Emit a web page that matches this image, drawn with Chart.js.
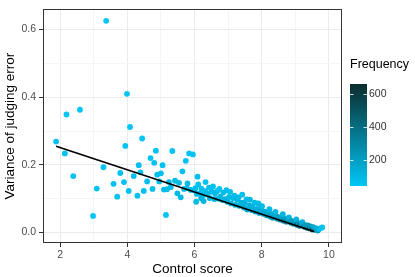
<!DOCTYPE html>
<html><head><meta charset="utf-8">
<script src="https://cdn.jsdelivr.net/npm/chart.js@4/dist/chart.umd.min.js"></script>
<style>html,body{margin:0;padding:0;background:#fff;}canvas{display:block}</style>
</head><body>
<canvas id="c" width="415" height="277"></canvas>
<script>
// ---- data ----
const ctrlScore = [
 1.88,2.14,2.19,2.39,2.59,2.98,3.09,3.29,3.37,3.59,3.70,3.79,3.90,3.94,3.99,4.04,4.08,4.19,4.30,4.34,
 4.39,4.44,4.49,4.59,4.69,4.75,4.80,4.85,4.89,4.95,5.00,5.05,5.09,5.15,5.18,5.24,5.29,5.34,5.42,5.49,
 5.54,5.59,5.64,5.69,5.74,5.77,5.79,5.84,5.89,5.95,5.99,6.05,6.09,6.20,6.27,
 6.03,6.07,6.11,6.17,6.21,6.26,6.31,6.33,6.39,6.43,6.45,6.51,6.55,6.59,6.61,6.67,6.71,6.74,6.77,6.83,
 6.86,6.91,6.95,6.98,7.03,7.06,7.09,7.15,7.19,7.21,7.27,7.31,7.33,7.39,7.42,7.47,7.49,7.55,7.57,7.63,
 7.65,7.71,7.73,7.79,7.81,7.87,7.90,7.93,7.99,8.01,8.07,8.09,8.15,8.17,8.23,8.25,8.31,8.33,8.39,8.41,
 8.47,8.49,8.55,8.57,8.63,8.65,8.71,8.73,8.79,8.81,8.87,8.89,8.95,8.97,9.03,9.05,9.11,9.13,9.19,9.21,
 9.27,9.29,9.35,9.37,9.43,9.45,9.51,9.53,9.59,9.61,9.67,9.70,9.76,9.80
];
const judgeVar = [
 0.269,0.234,0.349,0.167,0.363,0.049,0.130,0.193,0.626,0.144,0.106,0.176,0.149,0.256,0.410,0.123,0.312,0.167,0.109,0.199,
 0.178,0.278,0.123,0.151,0.220,0.129,0.206,0.242,0.171,0.151,0.175,0.199,0.127,0.052,0.128,0.149,0.134,0.241,0.153,0.116,
 0.147,0.104,0.181,0.129,0.212,0.131,0.145,0.234,0.126,0.231,0.125,0.091,0.165,0.101,0.093,
 0.131,0.114,0.142,0.116,0.129,0.110,0.122,0.149,0.115,0.133,0.102,0.121,0.136,0.099,0.115,0.122,0.100,0.129,0.106,0.096,
 0.118,0.099,0.125,0.091,0.105,0.120,0.086,0.102,0.109,0.082,0.097,0.104,0.079,0.088,0.112,0.074,0.089,0.098,0.068,0.080,
 0.097,0.066,0.075,0.088,0.062,0.070,0.086,0.058,0.066,0.078,0.055,0.062,0.051,0.058,0.069,0.047,0.054,0.044,0.050,0.061,
 0.041,0.046,0.038,0.044,0.054,0.035,0.040,0.032,0.037,0.045,0.029,0.034,0.026,0.030,0.039,0.023,0.027,0.020,0.024,0.031,
 0.017,0.022,0.014,0.021,0.012,0.018,0.009,0.016,0.008,0.013,0.006,0.010,0.013,0.015
];
const frequency = [
 60,55,45,50,45,41,50,55,41,60,55,60,60,50,45,65,50,65,60,60,
 65,50,70,70,55,75,60,55,70,75,70,60,80,50,80,80,85,55,80,90,
 85,90,70,95,60,95,90,55,100,55,100,80,70,120,110,
 70,80,60,85,65,90,75,55,95,70,100,85,60,105,95,70,110,60,100,115,
 80,110,70,120,95,70,125,105,80,130,110,80,140,115,65,150,120,85,160,125,
 90,170,130,80,180,135,95,190,140,90,200,150,210,155,95,220,160,240,170,100,
 250,175,270,180,105,290,190,310,195,110,330,200,350,210,115,370,215,390,220,120,
 420,230,450,220,500,210,663,180,300,130,200,90,70,55
];
// fitted regression line (end points)
const fitX = [1.88, 9.56];
const fitY = [0.255, 0.003];
// axis ticks (major + minor grid)
const xTicks = [2,3,4,5,6,7,8,9,10];
const xLabels = ['2','','4','','6','','8','','10'];
const yTicks = [0,0.1,0.2,0.3,0.4,0.5,0.6];
const yLabels = ['0.0','','0.2','','0.4','','0.6'];
const legendTicks = [200,400,600];
const legendLabels = ['200','400','600'];

// ---- colour scale ----
const lowC = [0,198,246], highC = [11,44,45];
const fMin = Math.min(...frequency), fMax = Math.max(...frequency);
function freqColor(f){
  const t = (f - fMin) / (fMax - fMin);
  const c = lowC.map((v,i)=>Math.round(v + (highC[i]-v)*t));
  return `rgb(${c[0]},${c[1]},${c[2]})`;
}

const FONT = '"Liberation Sans", Arial, Helvetica, sans-serif';
const pts = ctrlScore.map((x,i)=>({x, y: judgeVar[i]}));
const colors = frequency.map(freqColor);
const fit = fitX.map((x,i)=>({x, y: fitY[i]}));

const panelBorder = {
  id:'panelBorder',
  afterDatasetsDraw(chart){
    const {ctx, chartArea:a} = chart;
    ctx.save();
    ctx.strokeStyle = '#333333';
    ctx.lineWidth = 1;
    ctx.strokeRect(Math.round(a.left)+0.5, Math.round(a.top)+0.5, Math.round(a.right-a.left)-1, Math.round(a.bottom-a.top)-1);
    ctx.restore();
  }
};

const colorbar = {
  id:'colorbar',
  afterDraw(chart){
    const ctx = chart.ctx;
    const bx = 350, bw = 17, top = 84, bottom = 186;
    ctx.save();
    ctx.fillStyle = '#000';
    ctx.font = '12.5px ' + FONT;
    ctx.textAlign = 'left';
    ctx.textBaseline = 'alphabetic';
    ctx.fillText('Frequency', 350, 68);
    const g = ctx.createLinearGradient(0, bottom, 0, top);
    for (let k=0;k<=10;k++){
      g.addColorStop(k/10, freqColor(fMin + (fMax-fMin)*k/10));
    }
    ctx.fillStyle = g;
    ctx.fillRect(bx, top, bw, bottom-top);
    ctx.font = '10.5px ' + FONT;
    ctx.textBaseline = 'middle';
    legendTicks.forEach((v,i)=>{
      const y = bottom - (v - fMin)/(fMax - fMin)*(bottom-top);
      ctx.strokeStyle = 'rgba(255,255,255,0.8)';
      ctx.lineWidth = 1;
      ctx.beginPath();
      ctx.moveTo(bx, Math.round(y)+0.5); ctx.lineTo(bx+3.5, Math.round(y)+0.5);
      ctx.moveTo(bx+bw-3.5, Math.round(y)+0.5); ctx.lineTo(bx+bw, Math.round(y)+0.5);
      ctx.stroke();
      ctx.fillStyle = '#333';
      ctx.fillText(legendLabels[i], bx+bw+2, y);
    });
    ctx.restore();
  }
};

const isMajorX = v => xTicks.indexOf(v) % 2 === 0;
const isMajorY = v => yTicks.indexOf(v) % 2 === 0;

new Chart(document.getElementById('c'), {
  data: {
    datasets: [
      { type:'line', data: fit, borderColor:'#000', borderWidth:1.7, pointRadius:0, fill:false, tension:0 },
      { type:'scatter', data: pts, pointBackgroundColor: colors, pointBorderWidth:0, pointRadius:2.9, pointHoverRadius:2.9 }
    ]
  },
  options: {
    responsive:false, animation:false, devicePixelRatio:1,
    layout:{ padding:{ left:0, right:73, top:1, bottom:0 } },
    plugins:{ legend:{display:false}, tooltip:{enabled:false} },
    events: [],
    scales:{
      x:{
        type:'linear', min:1.49, max:10.39,
        afterBuildTicks: s => { s.ticks = xTicks.map(v=>({value:v})); },
        afterFit: s => { s.height = 34; },
        ticks:{ autoSkip:false, maxRotation:0, padding:1.5, color:'#4D4D4D', font:{family:FONT, size:10.5},
          callback:(v,i)=> xLabels[i] },
        grid:{ color: c => (c.tick && isMajorX(c.tick.value)) ? '#EBEBEB' : '#F5F5F5', lineWidth:1,
          tickLength:4, tickColor: c => (c.tick && isMajorX(c.tick.value)) ? '#333333' : 'rgba(0,0,0,0)' },
        border:{ display:false },
        title:{ display:true, text:'Control score', color:'#000', font:{family:FONT, size:13.5}, padding:{top:0,bottom:0} }
      },
      y:{
        type:'linear', min:-0.031, max:0.66,
        afterBuildTicks: s => { s.ticks = yTicks.map(v=>({value:v})); },
        afterFit: s => { s.width = 43; },
        ticks:{ autoSkip:false, padding:3, color:'#4D4D4D', font:{family:FONT, size:10.5},
          callback:(v,i)=> yLabels[i] },
        grid:{ color: c => (c.tick && isMajorY(c.tick.value)) ? '#EBEBEB' : '#F5F5F5', lineWidth:1,
          tickLength:4, tickColor: c => (c.tick && isMajorY(c.tick.value)) ? '#333333' : 'rgba(0,0,0,0)' },
        border:{ display:false },
        title:{ display:true, text:'Variance of judging error', color:'#000', font:{family:FONT, size:13.5}, padding:{top:2,bottom:0} }
      }
    }
  },
  plugins:[panelBorder, colorbar]
});
</script>
</body></html>
